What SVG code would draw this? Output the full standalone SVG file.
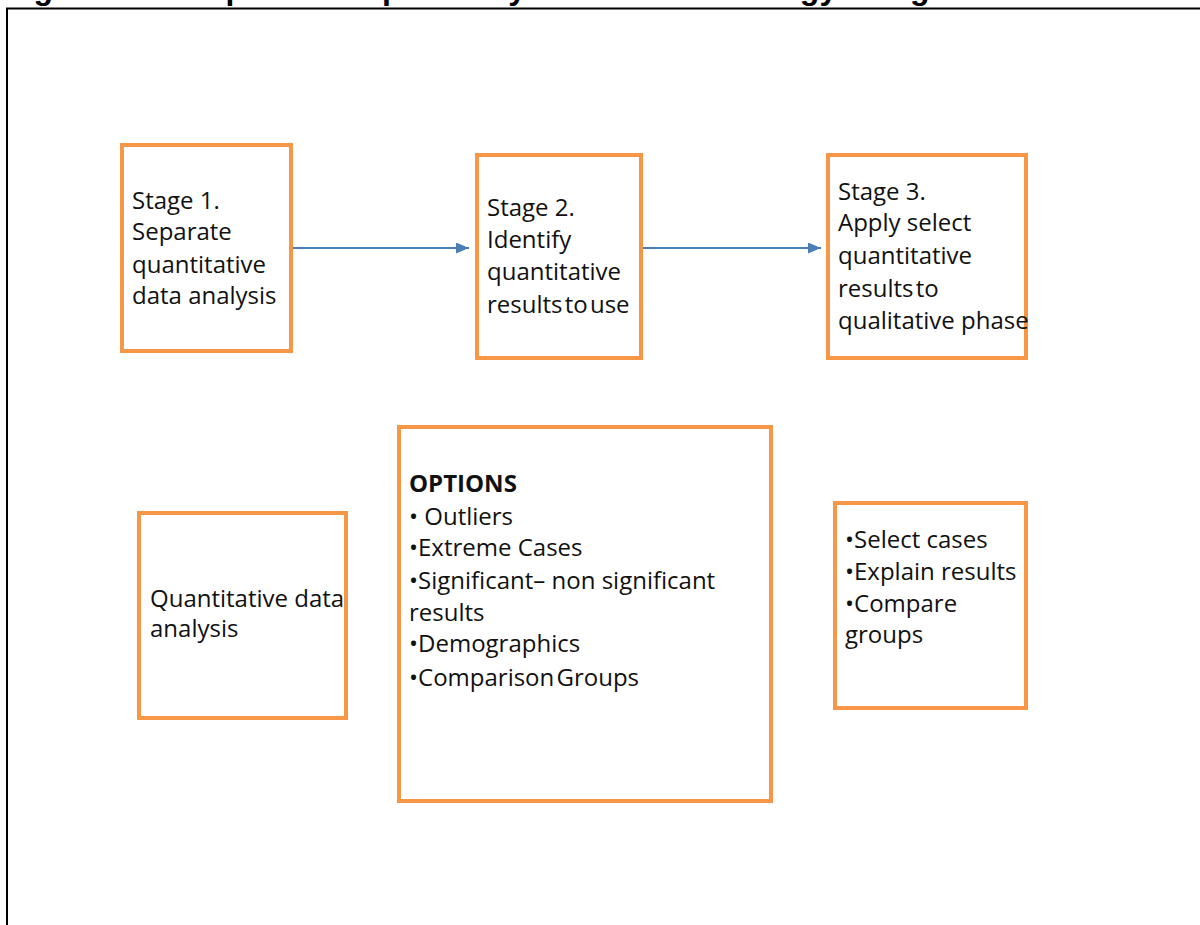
<svg xmlns="http://www.w3.org/2000/svg" width="1200" height="925" viewBox="0 0 1200 925">
  <defs>
    <style>
      .box { fill: #ffffff; stroke: #F79646; stroke-width: 4; }
      .t { font-family: "Open Sans", "Noto Sans", "Liberation Sans", sans-serif; font-size: 24px; fill: #111111; }
      .b { font-weight: bold; }
      .conn { stroke: #4A7EBB; stroke-width: 2; fill: none; }
      .title { font-family: "Liberation Sans", Arial, sans-serif; font-size: 32px; font-weight: bold; fill: #000000; }
    </style>
    <marker id="arrow" viewBox="0 0 13 11" refX="13" refY="5.5" markerWidth="13" markerHeight="11" markerUnits="userSpaceOnUse" orient="auto">
      <path d="M0,0 L13,5.5 L0,11 z" fill="#4A7EBB"/>
    </marker>
  </defs>
  <rect width="1200" height="925" fill="#ffffff"/>
  <text class="title" x="5" y="-1.5">Figure 1.1: Sequential explanatory mixed methodology design</text>
  <rect x="7" y="8.5" width="1220" height="940" fill="none" stroke="#000000" stroke-width="2"/>

  <g id="connectors">
    <line class="conn" x1="292" y1="248" x2="469" y2="248" marker-end="url(#arrow)"/>
    <line class="conn" x1="643" y1="248" x2="821" y2="248" marker-end="url(#arrow)"/>
  </g>

  <g id="stage1">
    <rect class="box" x="122" y="145" width="169" height="206"/>
    <text class="t" x="132" y="209">Stage 1.</text>
    <text class="t" x="132" y="240">Separate</text>
    <text class="t" x="132" y="273">quantitative</text>
    <text class="t" x="132" y="304">data analysis</text>
  </g>

  <g id="stage2">
    <rect class="box" x="477" y="155" width="164" height="203"/>
    <text class="t" x="487" y="216">Stage 2.</text>
    <text class="t" x="487" y="248">Identify</text>
    <text class="t" x="487" y="280">quantitative</text>
    <text class="t" x="487" y="313" word-spacing="-4">results to use</text>
  </g>

  <g id="stage3">
    <rect class="box" x="828" y="155" width="198" height="203"/>
    <text class="t" x="838" y="200">Stage 3.</text>
    <text class="t" x="838" y="231">Apply select</text>
    <text class="t" x="838" y="264">quantitative</text>
    <text class="t" x="838" y="297" word-spacing="-4">results to</text>
    <text class="t" x="838" y="329">qualitative phase</text>
  </g>

  <g id="quant-analysis">
    <rect class="box" x="139" y="513" width="207" height="205"/>
    <text class="t" x="150" y="607">Quantitative data</text>
    <text class="t" x="150" y="637">analysis</text>
  </g>

  <g id="options">
    <rect class="box" x="399" y="427" width="372" height="374"/>
    <text class="t b" x="409" y="492">OPTIONS</text>
    <text class="t" x="409" y="525">• Outliers</text>
    <text class="t" x="409" y="556">•Extreme Cases</text>
    <text class="t" x="409" y="589">•Significant– non significant</text>
    <text class="t" x="409" y="621">results</text>
    <text class="t" x="409" y="652">•Demographics</text>
    <text class="t" x="409" y="686" word-spacing="-4">•Comparison Groups</text>
  </g>

  <g id="qual-uses">
    <rect class="box" x="835" y="503" width="191" height="205"/>
    <text class="t" x="845" y="548">•Select cases</text>
    <text class="t" x="845" y="580">•Explain results</text>
    <text class="t" x="845" y="612">•Compare</text>
    <text class="t" x="845" y="643">groups</text>
  </g>
</svg>
